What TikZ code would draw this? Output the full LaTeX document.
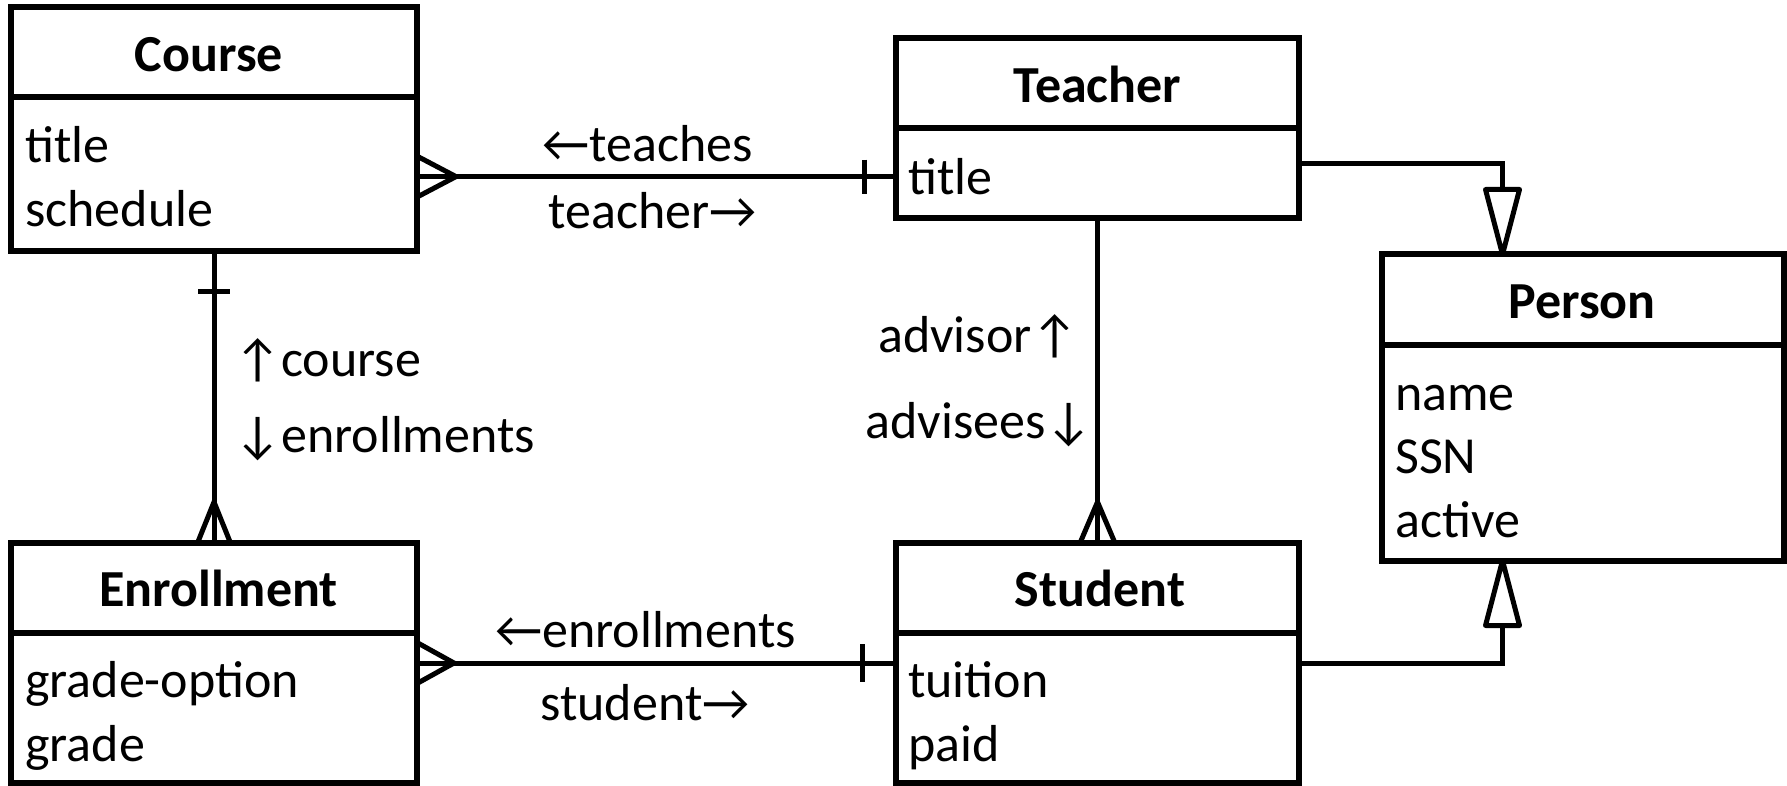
\documentclass[tikz,border=0pt]{standalone}
\usepackage{fontspec}
\setmainfont{Carlito}
\begin{document}
\begin{tikzpicture}[x=1pt,y=-1pt,
  classbox/.style={draw, line width=6pt, rectangle, inner sep=0pt, outer sep=0pt, anchor=north west},
  divider/.style={line width=6pt},
  head/.style={font=\bfseries\fontsize{52}{62}\selectfont, anchor=base, inner sep=0pt},
  attr/.style={font=\fontsize{52}{62}\selectfont, anchor=base west, inner sep=0pt},
  lbl/.style={font=\fontsize{52}{62}\selectfont, inner sep=0pt},
  conn/.style={line width=5pt},
  gentri/.style={line width=5pt, fill=white, line join=round},
]
\useasboundingbox (0,0) rectangle (1787,786);

% ---- class boxes ----
\node[classbox, minimum width=406pt, minimum height=244pt] (course) at (11,7) {};
\node[classbox, minimum width=403pt, minimum height=180pt] (teacher) at (896,38) {};
\node[classbox, minimum width=402pt, minimum height=306pt] (person) at (1381.5,254.5) {};
\node[classbox, minimum width=406pt, minimum height=240pt] (enroll) at (11,543) {};
\node[classbox, minimum width=403pt, minimum height=240pt] (student) at (896,543) {};

% header dividers
\draw[divider] (course.west |- 0,97) -- (course.east |- 0,97);
\draw[divider] (teacher.west |- 0,128) -- (teacher.east |- 0,128);
\draw[divider] (person.west |- 0,345) -- (person.east |- 0,345);
\draw[divider] (enroll.west |- 0,632.5) -- (enroll.east |- 0,632.5);
\draw[divider] (student.west |- 0,632.5) -- (student.east |- 0,632.5);

% class names
\node[head] (course-name) at (209,72) {Course};
\node[head] (teacher-name) at (1097.5,103) {Teacher};
\node[head] (person-name) at (1582,318) {Person};
\node[head] (enroll-name) at (218.5,606) {Enrollment};
\node[head] (student-name) at (1100,606) {Student};

% attributes
\node[attr] (course-a1) at (25,163) {title};
\node[attr] (course-a2) at (25,227) {schedule};
\node[attr] (teacher-a1) at (908,195) {title};
\node[attr] (person-a1) at (1395,410) {name};
\node[attr] (person-a2) at (1395,473) {SSN};
\node[attr] (person-a3) at (1395,537) {active};
\node[attr] (enroll-a1) at (25,697) {grade-option};
\node[attr] (enroll-a2) at (25,761) {grade};
\node[attr] (student-a1) at (908,697) {tuition};
\node[attr] (student-a2) at (908,761) {paid};

% ---- Course -- Teacher (many to one) ----
\coordinate (ctL) at ([yshift=-47.6pt]course.east);
\coordinate (ctR) at (teacher.west |- ctL);
\draw[conn] (ctL) -- (ctR);
\draw[conn] ([yshift=20.5pt]ctL) -- ([xshift=39pt]ctL) -- ([yshift=-20.5pt]ctL);
\draw[conn] ([xshift=-32pt,yshift=17pt]ctR) -- ([xshift=-32pt,yshift=-17pt]ctR);
\node[lbl, anchor=base] (lbl-teaches) at (648,162) {←teaches};
\node[lbl, anchor=base] (lbl-teacher) at (652.5,229) {teacher→};

% ---- Teacher -- Student (one to many) ----
\draw[conn] (teacher.south) -- (student.north);
\draw[conn] ([xshift=-17.5pt]student.north) -- ([yshift=41pt]student.north) -- ([xshift=17.5pt]student.north);
\node[lbl, anchor=base east] (lbl-advisor) at (1079,352) {advisor↑};
\node[lbl, anchor=base east] (lbl-advisees) at (1093,438) {advisees↓};

% ---- Course -- Enrollment (one to many) ----
\draw[conn] (course.south) -- (enroll.north);
\draw[conn] ([xshift=-16pt,yshift=-40pt]course.south) -- ([xshift=16pt,yshift=-40pt]course.south);
\draw[conn] ([xshift=-16.5pt]enroll.north) -- ([yshift=41pt]enroll.north) -- ([xshift=16.5pt]enroll.north);
\node[lbl, anchor=base west] (lbl-course) at (234,376) {↑course};
\node[lbl, anchor=base west] (lbl-enrollments) at (234,452) {↓enrollments};

% ---- Enrollment -- Student (many to one) ----
\draw[conn] (enroll.east) -- (student.west);
\draw[conn] ([yshift=20.5pt]enroll.east) -- ([xshift=37pt]enroll.east) -- ([yshift=-20.5pt]enroll.east);
\draw[conn] ([xshift=-34pt,yshift=19pt]student.west) -- ([xshift=-34pt,yshift=-19pt]student.west);
\node[lbl, anchor=base] (lbl-enrollments2) at (645.6,647) {←enrollments};
\node[lbl, anchor=base] (lbl-student) at (645,720) {student→};

% ---- generalisation to Person ----
\coordinate (pTop) at ([xshift=-80pt]person.north);
\coordinate (pBot) at ([xshift=-80pt]person.south);
\draw[conn] ([yshift=-36pt]teacher.east) -| ([yshift=65pt]pTop);
\draw[gentri] (pTop) -- ([xshift=-17pt,yshift=65pt]pTop) -- ([xshift=17pt,yshift=65pt]pTop) -- cycle;
\draw[conn] (student.east) -| ([yshift=-65pt]pBot);
\draw[gentri] (pBot) -- ([xshift=-17pt,yshift=-65pt]pBot) -- ([xshift=17pt,yshift=-65pt]pBot) -- cycle;
\end{tikzpicture}
\end{document}
